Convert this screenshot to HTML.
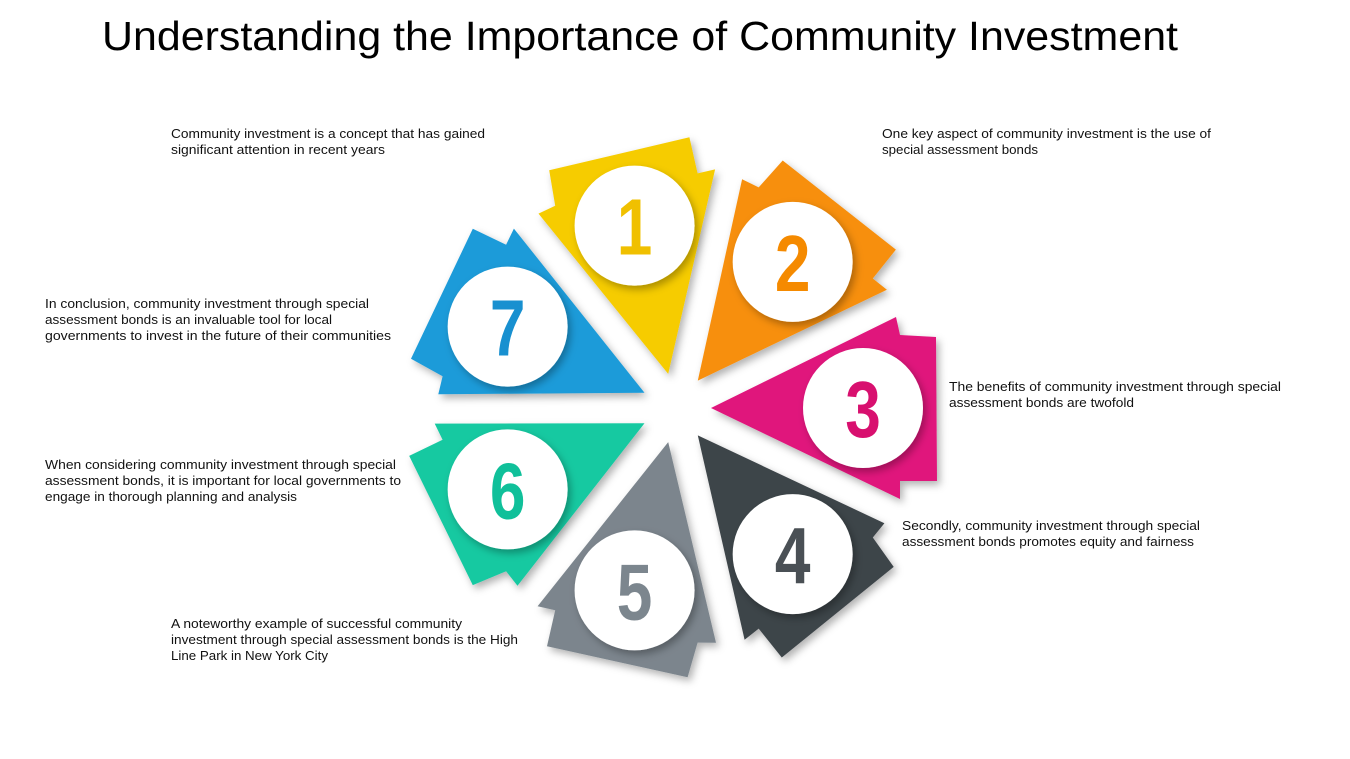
<!DOCTYPE html>
<html><head><meta charset="utf-8">
<style>
html,body{margin:0;padding:0;background:#fff;}
svg{display:block;}
.t{font-family:"Liberation Sans",sans-serif;font-size:13px;fill:#111;}
</style></head>
<body>
<svg id="s" width="1350" height="759" viewBox="0 0 1350 759">
<defs>
<filter id="sh" x="-30%" y="-30%" width="160%" height="160%"><feDropShadow dx="3" dy="4" stdDeviation="4" flood-color="#000" flood-opacity="0.3"/></filter>
</defs>
<text x="102" y="50" font-family="Liberation Sans, sans-serif" font-size="41" fill="#000" textLength="1076" lengthAdjust="spacingAndGlyphs">Understanding the Importance of Community Investment</text>
<g id="wheel"></g>
<g lengthAdjust="spacingAndGlyphs">
<g><text class="t" x="171" y="138" textLength="314" lengthAdjust="spacingAndGlyphs">Community investment is a concept that has gained</text><text class="t" x="171" y="154" textLength="214" lengthAdjust="spacingAndGlyphs">significant attention in recent years</text></g>
<g><text class="t" x="882" y="138" textLength="329" lengthAdjust="spacingAndGlyphs">One key aspect of community investment is the use of</text><text class="t" x="882" y="154" textLength="156" lengthAdjust="spacingAndGlyphs">special assessment bonds</text></g>
<g><text class="t" x="949" y="391" textLength="332" lengthAdjust="spacingAndGlyphs">The benefits of community investment through special</text><text class="t" x="949" y="407" textLength="185" lengthAdjust="spacingAndGlyphs">assessment bonds are twofold</text></g>
<g><text class="t" x="902" y="530" textLength="298" lengthAdjust="spacingAndGlyphs">Secondly, community investment through special</text><text class="t" x="902" y="546" textLength="292" lengthAdjust="spacingAndGlyphs">assessment bonds promotes equity and fairness</text></g>
<g><text class="t" x="171" y="628" textLength="291" lengthAdjust="spacingAndGlyphs">A noteworthy example of successful community</text><text class="t" x="171" y="644" textLength="347" lengthAdjust="spacingAndGlyphs">investment through special assessment bonds is the High</text><text class="t" x="171" y="660" textLength="157" lengthAdjust="spacingAndGlyphs">Line Park in New York City</text></g>
<g><text class="t" x="45" y="469" textLength="351" lengthAdjust="spacingAndGlyphs">When considering community investment through special</text><text class="t" x="45" y="485" textLength="356" lengthAdjust="spacingAndGlyphs">assessment bonds, it is important for local governments to</text><text class="t" x="45" y="501" textLength="252" lengthAdjust="spacingAndGlyphs">engage in thorough planning and analysis</text></g>
<g><text class="t" x="45" y="308" textLength="324" lengthAdjust="spacingAndGlyphs">In conclusion, community investment through special</text><text class="t" x="45" y="324" textLength="287" lengthAdjust="spacingAndGlyphs">assessment bonds is an invaluable tool for local</text><text class="t" x="45" y="340" textLength="346" lengthAdjust="spacingAndGlyphs">governments to invest in the future of their communities</text></g>
</g>
</svg>
<script>
const labels=["1","2","3","4","5","6","7"];
const angles=[-102.8,-51.4,0,51.4,102.8,154.2,-154.2];
const colors=["#f6cc00","#f78f0c","#e0147c","#3e4449","#7b858d","#14c9a1","#1b9bd9"];
const numColors=["#f0c000","#f58a00","#d8106f","#4a5055","#7c868e","#10c09a","#1890d0"];
const C=[676,408];
const shape=[[35,0],[220,-91],[224,-73],[260,-71],[261,73],[224,73],[224,91]];
const g=document.getElementById('wheel');
const NS='http://www.w3.org/2000/svg';
labels.forEach((lab,i)=>{
  const a=angles[i]*Math.PI/180,c=Math.cos(a),s=Math.sin(a);
  const tp=(p)=>[C[0]+p[0]*c-p[1]*s,C[1]+p[0]*s+p[1]*c];
  const poly=document.createElementNS(NS,'polygon');
  poly.setAttribute('points',shape.map(p=>tp(p).map(v=>v.toFixed(1)).join(',')).join(' '));
  poly.setAttribute('fill',colors[i]);
  poly.setAttribute('filter','url(#sh)');
  
  
  g.appendChild(poly);
  const cc=tp([187,0]);
  const circ=document.createElementNS(NS,'circle');
  circ.setAttribute('cx',cc[0]);circ.setAttribute('cy',cc[1]);circ.setAttribute('r',60);
  circ.setAttribute('fill','#fff');circ.setAttribute('filter','url(#sh)');
  
  
  g.appendChild(circ);
  const t=document.createElementNS(NS,'text');
  t.setAttribute('x',cc[0]);t.setAttribute('y',cc[1]+29);
  t.setAttribute('text-anchor','middle');
  t.setAttribute('font-family','"Liberation Sans Narrow","Liberation Sans",sans-serif');
  t.setAttribute('font-weight','bold');t.setAttribute('font-size','80');
  t.setAttribute('transform','translate('+cc[0]+' 0) scale(0.8 1) translate('+(-cc[0])+' 0)');
  t.setAttribute('fill',numColors[i]);
  t.textContent=lab;
  
  
  g.appendChild(t);
});
</script>
</body></html>
